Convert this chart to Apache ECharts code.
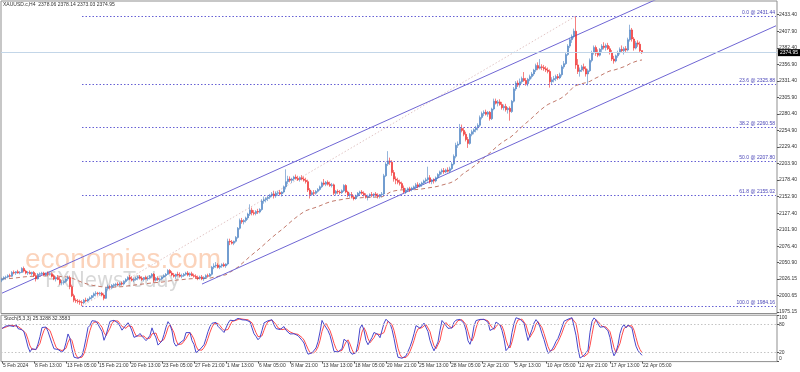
<!DOCTYPE html>
<html><head><meta charset="utf-8">
<script src="https://cdn.jsdelivr.net/npm/echarts@6/dist/echarts.min.js"></script>
<style>html,body{margin:0;padding:0;background:#fff}#c{width:800px;height:372px}</style>
</head><body><div id="c"></div><script>
const symbolTitle = 'XAUUSD.c,H4  2378.06 2378.14 2373.03 2374.95';
const stochTitle = 'Stoch(5,3,3) 25.3288 32.3583';

const opens = [
2024,2026,2028,2029,2031,2030,2036,2035,2037,2035,2036,2042,2038,2035,2036,2034,2036,2031,2026,2033,2034,2035,2032,2034,2033,
2034,2030,2026,2028,2025,2020,2020,2022,2026,2028,2014,2000,1993,1992,1991,1990,1989,1993,1992,1995,1997,2000,2003,2004,2003,2004,2001,1996,2011,2014,
2013,2016,2017,2018,2017,2019,2018,2022,2025,2028,2026,2024,2025,2027,2029,2027,2025,2028,2026,2027,2030,2033,2024,2027,2025,2026,2029,2031,2033,2039,
2035,2032,2030,2033,2032,2030,2031,2033,2035,2032,2034,2031,2030,2028,2027,2029,2026,2028,2031,2030,2033,2044,2046,2047,2044,2046,2048,2046,2049,2084,
2083,2081,2084,2090,2104,2116,2114,2116,2120,2126,2132,2128,2127,2130,2129,2133,2146,2148,2150,2152,2155,2157,2154,2158,2159,2157,2160,2168,2176,2180,
2178,2180,2183,2181,2179,2182,2180,2178,2176,2163,2156,2159,2158,2161,2164,2168,2174,2172,2175,2172,2170,2171,2158,2161,2160,2159,2162,2170,2160,2155,
2156,2152,2150,2154,2158,2160,2158,2155,2152,2154,2156,2155,2157,2155,2153,2156,2157,2185,2203,2208,2206,2190,2180,2178,2175,2173,2166,2160,2163,2165,
2164,2166,2168,2171,2169,2172,2174,2177,2179,2182,2176,2178,2177,2182,2187,2191,2193,2191,2194,2192,2196,2203,2215,2232,
2234,2258,2255,2249,2241,2235,2249,2253,2256,2259,2263,2275,2281,2283,2280,2283,2273,2288,2300,2297,2299,2295,2290,2292,2287,2289,2284,2300,2319,2328,
2325,2330,2335,2332,2327,2334,2338,2342,2348,2355,2351,2353,2352,2350,2348,2346,2330,2333,2335,2338,2336,2341,2353,2358,2372,2385,2395,2400,2408,2356,
2346,2348,2353,2350,2342,2347,2363,2375,2383,2374,2371,2380,2385,2383,2386,2381,2375,2365,2362,2370,2375,2380,2378,2381,2379,2395,2410,2396,2382,2390,
2388,2378.06];
const highs = [
2028,2030,2031,2033,2034,2038,2039,2038,2040,2038,2044,2045,2040,2038,2039,2037,2038,2035,2035,2036,2037,2037,2036,2037,2036,
2036,2033,2030,2032,2029,2024,2024,2027,2031,2031,2017,2003,1996,1995,1994,1993,1995,1997,1996,1999,2001,2005,2007,2006,2006,2006,2003,2013,2017,2016,
2018,2019,2020,2021,2021,2022,2024,2027,2030,2032,2030,2028,2029,2031,2032,2030,2029,2031,2030,2032,2035,2035,2029,2030,2028,2030,2033,2035,2041,2041,
2038,2035,2034,2037,2036,2034,2035,2037,2038,2036,2037,2034,2033,2031,2031,2032,2030,2033,2034,2035,2046,2050,2052,2050,2048,2050,2051,2050,2088,2088,
2086,2085,2092,2106,2119,2120,2118,2122,2128,2141,2136,2132,2132,2134,2135,2149,2153,2152,2154,2157,2160,2162,2161,2162,2163,2161,2170,2195,2185,2184,
2182,2185,2187,2185,2184,2186,2184,2182,2179,2166,2162,2163,2163,2166,2170,2176,2180,2177,2178,2176,2174,2173,2163,2164,2163,2164,2172,2172,2162,2159,
2160,2155,2156,2160,2162,2163,2161,2158,2156,2158,2160,2158,2160,2158,2157,2160,2188,2206,2223,2213,2209,2194,2184,2182,2179,2176,2170,2166,2167,2168,
2168,2170,2174,2175,2174,2176,2179,2182,2199,2186,2180,2181,2184,2189,2193,2196,2197,2196,2198,2199,2206,2218,2236,2238,
2265,2264,2259,2253,2245,2251,2256,2258,2262,2266,2278,2284,2286,2287,2285,2285,2290,2304,2304,2302,2303,2299,2295,2296,2291,2292,2302,2322,2331,2332,
2335,2338,2345,2336,2336,2341,2345,2350,2358,2360,2365,2357,2356,2354,2352,2349,2337,2339,2341,2342,2344,2356,2362,2376,2388,2398,2403,2412,2431,2365,
2352,2356,2358,2354,2350,2366,2378,2386,2386,2380,2382,2388,2391,2389,2390,2385,2379,2370,2372,2378,2383,2386,2384,2385,2398,2418,2413,2399,2393,2394,
2392,2378.14];
const lows = [
2021,2024,2025,2027,2028,2029,2033,2032,2034,2033,2035,2036,2033,2032,2033,2031,2029,2022,2025,2031,2032,2030,2030,2031,2031,
2028,2024,2022,2024,2017,2016,2017,2020,2023,2010,1998,1990,1989,1988,1986,1984,1987,1990,1990,1993,1994,1997,1999,2000,2000,1999,1993,1995,2008,2010,
2010,2013,2014,2015,2015,2016,2016,2020,2023,2024,2022,2021,2023,2024,2025,2023,2022,2025,2023,2025,2027,2020,2022,2023,2022,2024,2027,2029,2032,2033,
2030,2028,2026,2030,2028,2027,2029,2031,2030,2029,2030,2028,2026,2024,2025,2024,2023,2026,2028,2029,2031,2041,2043,2042,2041,2043,2044,2043,2047,2078,
2079,2078,2082,2088,2102,2111,2110,2113,2117,2123,2124,2124,2124,2126,2127,2131,2142,2144,2146,2149,2152,2150,2151,2154,2155,2153,2158,2164,2172,2175,
2174,2177,2179,2177,2176,2178,2176,2173,2160,2150,2154,2155,2156,2159,2162,2166,2170,2169,2170,2168,2167,2155,2155,2157,2156,2157,2160,2158,2152,2151,
2150,2147,2148,2152,2155,2156,2153,2150,2147,2151,2152,2151,2153,2150,2150,2152,2155,2183,2200,2202,2185,2176,2172,2172,2170,2164,2158,2157,2160,2160,
2161,2163,2165,2166,2167,2168,2171,2174,2176,2173,2172,2173,2175,2180,2184,2187,2188,2189,2190,2189,2194,2201,2212,2228,
2233,2252,2246,2238,2228,2233,2246,2249,2252,2255,2260,2272,2277,2278,2276,2270,2271,2286,2295,2292,2293,2287,2286,2284,2281,2270,2282,2298,2316,2322,
2321,2327,2330,2324,2323,2331,2335,2339,2345,2348,2349,2348,2347,2345,2343,2321,2325,2329,2331,2333,2334,2338,2350,2356,2370,2382,2390,2397,2350,2342,
2338,2345,2346,2338,2325,2345,2360,2372,2370,2368,2369,2376,2380,2378,2379,2372,2362,2358,2360,2367,2372,2375,2372,2376,2377,2392,2392,2378,2380,2384,
2376,2373.03];
const closes = [
2026,2028,2029,2031,2030,2036,2035,2037,2035,2036,2042,2038,2035,2036,2034,2036,2031,2026,2033,2034,2035,2032,2034,2033,2034,
2030,2026,2028,2025,2020,2020,2022,2026,2028,2014,2000,1993,1992,1991,1990,1989,1993,1992,1995,1997,2000,2003,2004,2003,2004,2001,1996,2011,2014,2013,
2016,2017,2018,2017,2019,2018,2022,2025,2028,2026,2024,2025,2027,2029,2027,2025,2028,2026,2027,2030,2033,2024,2027,2025,2026,2029,2031,2033,2039,2035,
2032,2030,2033,2032,2030,2031,2033,2035,2032,2034,2031,2030,2028,2027,2029,2026,2028,2031,2030,2033,2044,2046,2047,2044,2046,2048,2046,2049,2084,2083,
2081,2084,2090,2104,2116,2114,2116,2120,2126,2132,2128,2127,2130,2129,2133,2146,2148,2150,2152,2155,2157,2154,2158,2159,2157,2160,2168,2176,2180,2178,
2180,2183,2181,2179,2182,2180,2178,2176,2163,2156,2159,2158,2161,2164,2168,2174,2172,2175,2172,2170,2171,2158,2161,2160,2159,2162,2170,2160,2155,2156,
2152,2150,2154,2158,2160,2158,2155,2152,2154,2156,2155,2157,2155,2153,2156,2157,2185,2203,2208,2206,2190,2180,2178,2175,2173,2166,2160,2163,2165,2164,
2166,2168,2171,2169,2172,2174,2177,2179,2182,2176,2178,2177,2182,2187,2191,2193,2191,2194,2192,2196,2203,2215,2232,2234,
2258,2255,2249,2241,2235,2249,2253,2256,2259,2263,2275,2281,2283,2280,2283,2273,2288,2300,2297,2299,2295,2290,2292,2287,2289,2284,2300,2319,2328,2325,
2330,2335,2332,2327,2334,2338,2342,2348,2355,2351,2353,2352,2350,2348,2346,2330,2333,2335,2338,2336,2341,2353,2358,2372,2385,2395,2400,2408,2356,2346,
2348,2353,2350,2342,2347,2363,2375,2383,2374,2371,2380,2385,2383,2386,2381,2375,2365,2362,2370,2375,2380,2378,2381,2379,2395,2410,2396,2382,2390,2388,
2378,2374.95];

const xTickIndex = [0,16,32,48,64,80,96,112,128,144,160,176,192,208,224,240,256,272,288,304,320];
const xTickLabels = ['5 Feb 2024','8 Feb 13:00','13 Feb 05:00','15 Feb 21:00','20 Feb 13:00','23 Feb 05:00','27 Feb 21:00','1 Mar 13:00','6 Mar 05:00','8 Mar 21:00','13 Mar 13:00','18 Mar 05:00','20 Mar 21:00','25 Mar 13:00','28 Mar 05:00','2 Apr 21:00','5 Apr 13:00','10 Apr 05:00','12 Apr 21:00','17 Apr 13:00','22 Apr 05:00'];
const yTickValues = [1975.15,2000.65,2026.15,2050.90,2076.40,2101.90,2127.40,2152.90,2178.40,2203.90,2229.40,2254.90,2280.40,2305.90,2331.40,2356.90,2382.40,2407.90,2433.40];
const stochTickValues = [0,20,80,100];

const fibRatios = ['0.0','23.6','38.2','50.0','61.8','100.0'];
const fibPrices = [2431.44,2325.88,2260.58,2207.80,2155.02,1984.16];
const fibFromBar = 40;
const fibAnchor = [[40,1984.16],[287,2431.44]];
const channelUpper = [[0,2004.0],[387,2540.0]];
const channelLower = [[100,2018.0],[387,2416.4]];
const lastPrice = 2374.95;
const slotCount = 388;

const n = closes.length;
const slots = Array.from({length: slotCount}, (_, i) => String(i));
const upColor = '#4f84c4', downColor = '#f02c2c';
const candleData = opens.map((o, i) => {
  const col = closes[i] >= o ? upColor : downColor;
  return { value: [o, closes[i], lows[i], highs[i]], itemStyle: { color: col, color0: col, borderColor: col, borderColor0: col } };
});

// EMA(50) of closes
const maPeriod = 50, alpha = 2 / (maPeriod + 1);
const ma = []; let prev = closes[0];
closes.forEach((c, i) => { prev = i === 0 ? c : alpha * c + (1 - alpha) * prev; ma.push(prev); });

// Stochastic (5,3,3)
const kP = 5, slowing = 3, dP = 3;
const kLine = [], dLine = [];
for (let i = 0; i < n; i++) {
  let num = 0, den = 0;
  for (let j = Math.max(0, i - slowing + 1); j <= i; j++) {
    let hh = -Infinity, ll = Infinity;
    for (let m = Math.max(0, j - kP + 1); m <= j; m++) { hh = Math.max(hh, highs[m]); ll = Math.min(ll, lows[m]); }
    num += closes[j] - ll; den += hh - ll;
  }
  kLine.push(den > 0 ? num / den * 100 : 50);
}
for (let i = 0; i < n; i++) {
  let s = 0, c = 0;
  for (let j = Math.max(0, i - dP + 1); j <= i; j++) { s += kLine[j]; c++; }
  dLine.push(s / c);
}

const tickSet = new Set(xTickIndex);
const labelMap = {}; xTickIndex.forEach((v, k) => labelMap[v] = xTickLabels[k]);
const FONT = '"Liberation Sans", Arial, sans-serif';
const fibColor = '#6660d4';

const fibMarks = fibPrices.map((p, k) => [
  { coord: [fibFromBar, p], label: { show: true, position: 'insideEndTop', distance: 1, formatter: fibRatios[k] + ' @ ' + p.toFixed(2), color: '#4a46b8', fontSize: 5, fontFamily: FONT },
    lineStyle: { color: fibColor, type: [1.5, 2], width: 1 } },
  { coord: [slotCount - 1, p] }
]);

const chart = echarts.init(document.getElementById('c'), null, { renderer: 'canvas' });
chart.setOption({
  animation: false,
  backgroundColor: '#fff',
  textStyle: { fontFamily: FONT },
  grid: [
    { left: 1, top: 1, width: 776, height: 312.5, show: true, borderColor: '#8f8f8f', borderWidth: 1, containLabel: false, outerBoundsMode: 'none' },
    { left: 1, top: 315.2, width: 776, height: 46.4, show: true, borderColor: '#8f8f8f', borderWidth: 1, containLabel: false, outerBoundsMode: 'none' }
  ],
  xAxis: [
    { gridIndex: 0, type: 'category', data: slots, boundaryGap: true, show: false },
    { gridIndex: 1, type: 'category', data: slots, boundaryGap: true,
      axisLine: { show: false },
      axisTick: { show: true, alignWithLabel: true, length: 2, interval: (i) => tickSet.has(i), lineStyle: { color: '#555' } },
      axisLabel: { show: true, interval: (i) => tickSet.has(i), formatter: (v, i) => labelMap[i] || '', fontSize: 5, color: '#333', align: 'left', margin: 1.5, padding: [0, 0, 0, 1], fontFamily: FONT }
    }
  ],
  yAxis: [
    { gridIndex: 0, type: 'value', position: 'right', min: 1972.6, max: 2454.6, splitLine: { show: false },
      axisLine: { show: false },
      axisTick: { show: true, customValues: yTickValues, length: 2, lineStyle: { color: '#555' } },
      axisLabel: { customValues: yTickValues, formatter: (v) => Number(v).toFixed(2), fontSize: 5, color: '#333', margin: 2, fontFamily: FONT } },
    { gridIndex: 1, type: 'value', position: 'right', min: 0, max: 100, splitLine: { show: false },
      axisLine: { show: false },
      axisTick: { show: true, customValues: stochTickValues, length: 2, lineStyle: { color: '#555' } },
      axisLabel: { customValues: stochTickValues, formatter: (v) => String(Math.round(v)), fontSize: 5, color: '#333', margin: 2, fontFamily: FONT,
        showMinLabel: true, showMaxLabel: true, hideOverlap: false,
        verticalAlignMinLabel: 'bottom', verticalAlignMaxLabel: 'top' } }
  ],
  series: [
    { type: 'candlestick', xAxisIndex: 0, yAxisIndex: 0, data: candleData, barWidth: 1.6, large: false, z: 4,
      itemStyle: { color: upColor, color0: downColor, borderColor: upColor, borderColor0: downColor, borderWidth: 0.6 },
      markLine: { silent: true, symbol: ['none', 'none'], animation: false,
        data: [
          { yAxis: lastPrice, lineStyle: { color: '#c3d6e8', type: 'solid', width: 1 },
            label: { show: true, position: 'end', distance: 1, formatter: lastPrice.toFixed(2), color: '#fff', backgroundColor: '#000', fontSize: 5, padding: [1, 2], fontFamily: FONT } }
        ].concat(fibMarks)
      }
    },
    { type: 'line', xAxisIndex: 0, yAxisIndex: 0, data: ma, showSymbol: false, z: 3,
      lineStyle: { color: '#c27a6c', width: 1, type: [4, 3] } },
    { type: 'line', xAxisIndex: 0, yAxisIndex: 0, data: fibAnchor, showSymbol: false, z: 2,
      lineStyle: { color: '#e2c6c6', width: 1, type: [1.5, 2] } },
    { type: 'line', xAxisIndex: 0, yAxisIndex: 0, data: channelUpper, showSymbol: false, clip: true, z: 3,
      lineStyle: { color: '#6f66d4', width: 1 } },
    { type: 'line', xAxisIndex: 0, yAxisIndex: 0, data: channelLower, showSymbol: false, clip: true, z: 3,
      lineStyle: { color: '#6f66d4', width: 1 } },
    { type: 'line', xAxisIndex: 1, yAxisIndex: 1, data: kLine, showSymbol: false, z: 4,
      lineStyle: { color: '#4848cc', width: 1 },
      markLine: { silent: true, symbol: ['none', 'none'], label: { show: false },
        lineStyle: { color: '#c4c4c4', type: [1.5, 2], width: 1 },
        data: [{ yAxis: 20 }, { yAxis: 80 }] } },
    { type: 'line', xAxisIndex: 1, yAxisIndex: 1, data: dLine, showSymbol: false, z: 3,
      lineStyle: { color: '#ff4c4c', width: 1 } }
  ],
  graphic: [
    { type: 'text', x: 25, y: 260, z: 0, silent: true,
      style: { text: 'economies.com', font: '28px "Liberation Sans", Arial, sans-serif', fill: 'rgba(246,150,92,0.42)', textVerticalAlign: 'middle' } },
    { type: 'text', x: 45, y: 281, z: 0, silent: true,
      style: { text: 'FXNewsToday', font: '22px "Liberation Sans Narrow", "DejaVu Sans Condensed", sans-serif', fill: 'rgba(140,140,140,0.34)', textVerticalAlign: 'middle' } },
    { type: 'text', x: 3, y: 5, z: 10, silent: true,
      style: { text: symbolTitle, font: '5px "Liberation Sans", Arial, sans-serif', fill: '#333', textVerticalAlign: 'middle' } },
    { type: 'text', x: 4, y: 319, z: 10, silent: true,
      style: { text: stochTitle, font: '5px "Liberation Sans", Arial, sans-serif', fill: '#333', textVerticalAlign: 'middle' } }
  ]
});
</script></body></html>
